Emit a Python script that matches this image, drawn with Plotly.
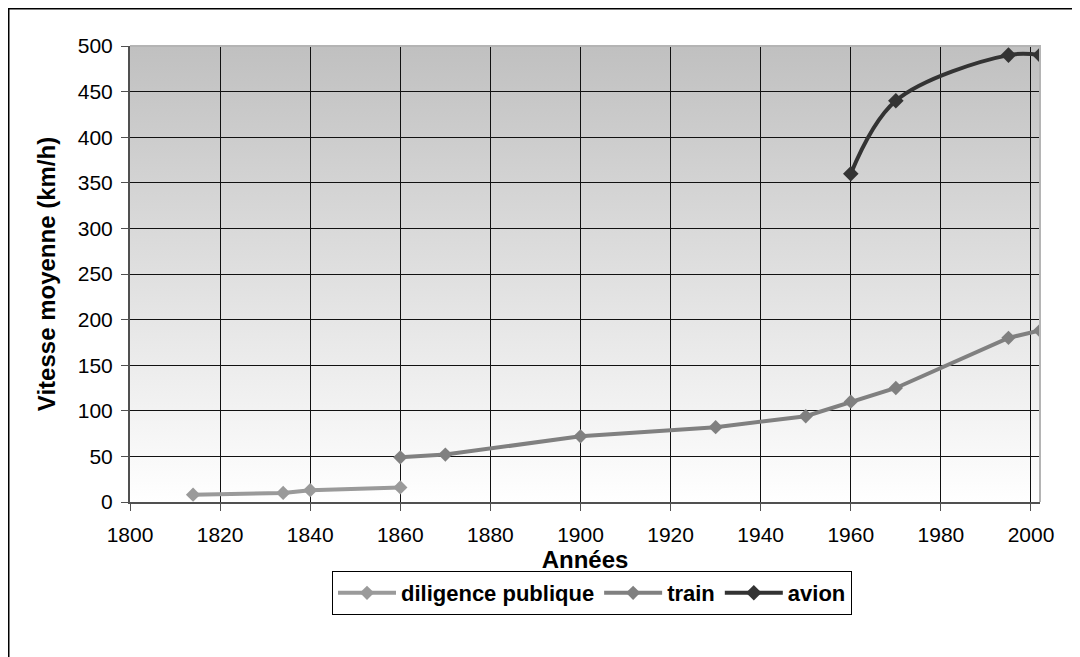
import base64
import plotly.graph_objects as go

# données
dil_annees = [1814, 1834, 1840, 1860]
dil_vitesse = [8, 10, 13, 16]

train_annees = [1860, 1870, 1900, 1930, 1950, 1960, 1970, 1995, 2002]
train_vitesse = [49, 52, 72, 82, 94, 110, 125, 180, 188]

avion_annees = [1960, 1970, 1995, 2002]
avion_vitesse = [360, 440, 490, 490]

x_ticks = list(range(1800, 2001, 20))
y_ticks = list(range(0, 501, 50))

FONT = "Liberation Sans, Arial, sans-serif"

# la page html ajoute 8 px de marge : figure réduite d'autant
W, H = 1072, 649
L, R, T, B = 122, 40, 38, 155
PW, PH = W - L - R, H - T - B

# fond dégradé gris -> blanc, en image svg
svg = ('<svg xmlns="http://www.w3.org/2000/svg" width="10" height="100" viewBox="0 0 10 100" '
       'preserveAspectRatio="none"><defs><linearGradient id="g" x1="0" y1="0" x2="0" y2="1">'
       '<stop offset="0" stop-color="#c0c0c0"/><stop offset="1" stop-color="#ffffff"/>'
       '</linearGradient></defs><rect width="10" height="100" fill="url(#g)"/></svg>')
svg_uri = "data:image/svg+xml;base64," + base64.b64encode(svg.encode()).decode()

fig = go.Figure()

fig.add_trace(go.Scatter(
    x=dil_annees, y=dil_vitesse, name="diligence publique", mode="lines+markers",
    line=dict(color="#9a9a9a", width=4),
    marker=dict(symbol="diamond", size=11, color="#9a9a9a"),
))
fig.add_trace(go.Scatter(
    x=train_annees, y=train_vitesse, name="train", mode="lines+markers",
    line=dict(color="#808080", width=4),
    marker=dict(symbol="diamond", size=11, color="#808080"),
))
fig.add_trace(go.Scatter(
    x=avion_annees, y=avion_vitesse, name="avion", mode="lines+markers",
    line=dict(color="#333333", width=4, shape="spline"),
    marker=dict(symbol="diamond", size=12, color="#333333"),
))

fig.update_layout(
    width=W, height=H,
    margin=dict(l=L, r=R, t=T, b=B),
    paper_bgcolor="white",
    plot_bgcolor="rgba(0,0,0,0)",
    font=dict(family=FONT, size=21, color="black"),
    images=[dict(source=svg_uri, xref="paper", yref="paper", x=0, y=1, sizex=1, sizey=1,
                 sizing="stretch", xanchor="left", yanchor="top", layer="below")],
    legend=dict(
        orientation="h", x=(592 - 8 - L) / PW, xanchor="center",
        y=(502 - 571) / PH, yanchor="top",
        bordercolor="black", borderwidth=1, bgcolor="white",
        font=dict(family=FONT, size=22, weight="bold"),
        itemwidth=58,
    ),
    shapes=[
        # cadre extérieur
        dict(type="rect", xref="paper", yref="paper",
             x0=(0.75 - L) / PW, y0=-0.6, x1=1.2, y1=1 + (T - 0.75) / PH,
             line=dict(color="black", width=1.5), layer="below"),
        # bord haut et droit de la zone de tracé
        dict(type="path", xref="paper", yref="paper", path="M0,1 L1,1 L1,0",
             line=dict(color="#b4b4b4", width=2), layer="above"),
    ],
    showlegend=True,
)

fig.update_xaxes(
    range=[1800, 2002], tickvals=x_ticks,
    showgrid=True, gridcolor="#111111", gridwidth=1,
    showline=True, linecolor="#505050", linewidth=2,
    ticks="outside", ticklen=7, tickcolor="#505050", ticklabelstandoff=6,
    zeroline=False,
    title=dict(text="Années", font=dict(family=FONT, size=24, weight="bold"), standoff=2),
)
fig.update_yaxes(
    range=[0, 500], tickvals=y_ticks,
    showgrid=True, gridcolor="#111111", gridwidth=1,
    showline=True, linecolor="#505050", linewidth=2,
    ticks="outside", ticklen=7, tickcolor="#505050", ticklabelstandoff=4,
    zeroline=False,
    title=dict(text="Vitesse moyenne (km/h)", font=dict(family=FONT, size=24, weight="bold"), standoff=15),
)

fig.write_html("out.html")
